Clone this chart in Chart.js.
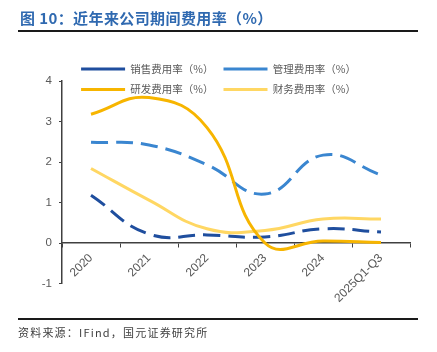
<!DOCTYPE html>
<html>
<head>
<meta charset="utf-8">
<script src="https://cdn.jsdelivr.net/npm/chart.js@4/dist/chart.umd.min.js"></script>
<style>
  html, body { margin: 0; padding: 0; background: #ffffff; }
  #wrap { position: relative; width: 437px; height: 352px; overflow: hidden; }
  #c { position: absolute; left: 0; top: 0; }
  .title { position: absolute; left: 20px; top: 8px; line-height: 20px; font-family: "Noto Sans CJK SC", sans-serif; font-weight: bold; font-size: 15px; letter-spacing: 0.4px; color: #2F69B0; white-space: nowrap; }
  .rule { position: absolute; left: 18px; width: 400px; height: 2px; background: #1a1a1a; }
  .src { position: absolute; left: 18px; top: 324px; line-height: 16px; font-family: "Noto Sans CJK SC", sans-serif; font-size: 11px; letter-spacing: 1.2px; color: #404040; white-space: nowrap; }
</style>
</head>
<body>
<div id="wrap">
  <canvas id="c" width="437" height="352"></canvas>
  <div class="title">图 10：近年来公司期间费用率（%）</div>
  <div class="rule" style="top:30px"></div>
  <div class="rule" style="top:318px"></div>
  <div class="src">资料来源：IFind，国元证券研究所</div>
</div>
<script>
const categories = ["2020", "2021", "2022", "2023", "2024", "2025Q1-Q3"];
const seriesNames = ["销售费用率（%）", "管理费用率（%）", "研发费用率（%）", "财务费用率（%）"];
const salesRate = [1.18, 0.22, 0.20, 0.15, 0.35, 0.27];
const adminRate = [2.49, 2.42, 1.93, 1.21, 2.17, 1.68];
const rdRate = [3.18, 3.59, 2.85, 0.00, 0.05, 0.01];
const financeRate = [1.84, 1.06, 0.35, 0.31, 0.59, 0.59];
const yTicks = [-1, 0, 1, 2, 3, 4];

const colors = ["#1F4E9E", "#3A86D0", "#F7B500", "#FFD763"];
const dash = [17, 8];

const legendHeightPlugin = {
  id: 'legendHeight',
  beforeInit(chart) {
    const origFit = chart.legend.fit;
    chart.legend.fit = function () {
      origFit.call(this);
      this.height = 27.25;
    };
  },
  afterLayout(chart) {
    const lg = chart.legend;
    if (lg) {
      lg.bottom = lg.top + 60;
      lg.height = 60;
    }
  }
};

function mk(label, data, color, dashed, order) {
  return {
    label: label,
    data: data,
    borderColor: color,
    backgroundColor: color,
    borderWidth: 3,
    borderDash: dashed ? dash : [],
    pointRadius: 0,
    pointHoverRadius: 0,
    tension: 0.45,
    fill: false,
    order: order
  };
}

new Chart(document.getElementById('c'), {
  type: 'line',
  data: {
    labels: categories,
    datasets: [
      mk(seriesNames[0], salesRate, colors[0], true, 2),
      mk(seriesNames[1], adminRate, colors[1], true, 3),
      mk(seriesNames[2], rdRate, colors[2], false, 0),
      mk(seriesNames[3], financeRate, colors[3], false, 1)
    ]
  },
  plugins: [legendHeightPlugin],
  options: {
    responsive: false,
    animation: false,
    devicePixelRatio: 1,
    layout: { padding: { top: 53.75, left: 27, right: 27, bottom: 68.5 } },
    plugins: {
      tooltip: { enabled: false },
      legend: {
        position: 'top',
        align: 'center',
        labels: {
          usePointStyle: true,
          pointStyle: 'line',
          pointStyleWidth: 44,
          boxHeight: 10.5,
          padding: 10,
          color: '#595959',
          font: { family: '"Noto Sans CJK SC", sans-serif', size: 10.5 },
          sort: (a, b) => a.datasetIndex - b.datasetIndex
        }
      }
    },
    scales: {
      x: {
        type: 'category',
        position: { y: 0 },
        offset: true,
        grid: { display: true, offset: true, drawOnChartArea: false, drawTicks: true, tickLength: 4, color: '#404040', lineWidth: 1 },
        border: { display: true, color: '#404040', width: 1.5 },
        ticks: { minRotation: 45, maxRotation: 45, autoSkip: false, padding: 4, color: '#595959', font: { family: '"Liberation Sans", Arial, sans-serif', size: 12 } }
      },
      y: {
        min: -1,
        max: 4,
        afterBuildTicks: (scale) => { scale.ticks = yTicks.map(v => ({ value: v })); },
        afterFit: (scale) => { scale.width = 35; },
        grid: { display: true, drawOnChartArea: false, drawTicks: true, tickLength: 3, color: '#404040', lineWidth: 1 },
        border: { display: true, color: '#404040', width: 1.5 },
        ticks: { padding: 7, color: '#595959', font: { family: '"Liberation Sans", Arial, sans-serif', size: 11.5 } }
      }
    }
  }
});
</script>
</body>
</html>
